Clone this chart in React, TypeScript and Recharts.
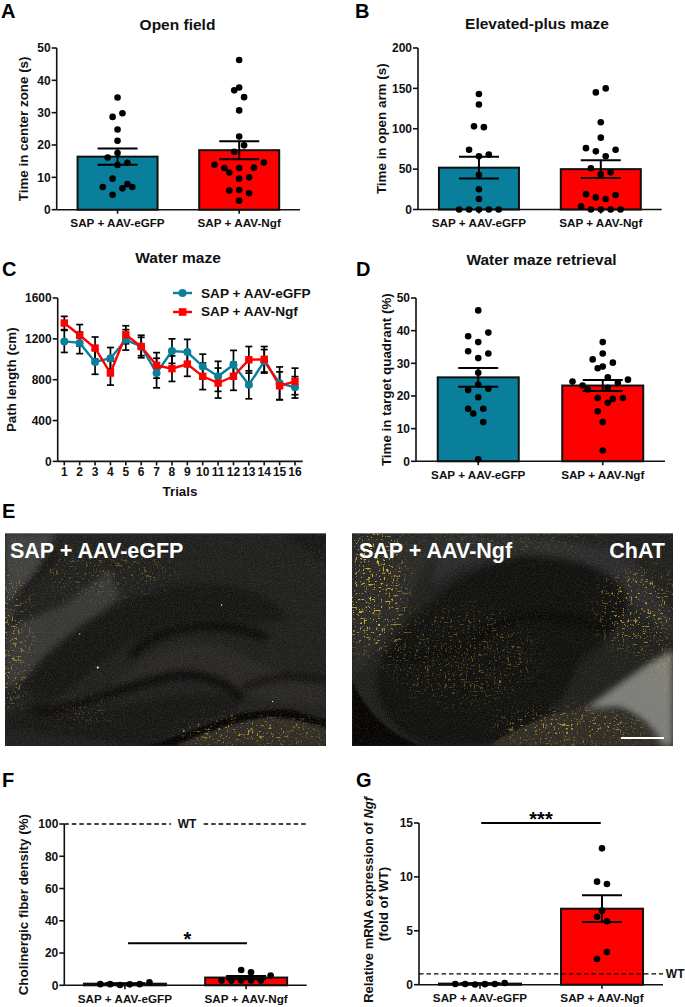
import React from 'react';
import { ComposedChart, LineChart, Line, Bar, Scatter, XAxis, YAxis, ErrorBar, ReferenceLine, ReferenceDot, Legend } from 'recharts';

const GFP = 'SAP + AAV-eGFP';
const NGF = 'SAP + AAV-Ngf';
const groupNames = [GFP, NGF];
const TEAL = '#0a7f9b';
const RED = '#ff0000';
const INK = '#111111';
const FONT = '"Liberation Sans", Arial, sans-serif';

// Panel A
const aMeans = [16.4, 18.4];
const aErrs = [2.5, 2.8];
const aGfpVals = [34.7, 29.8, 28.7, 24.8, 21.3, 17.5, 16.1, 13.8, 14.5, 9.6, 7.0, 6.6, 7.9, 7.0, 4.6];
const aGfpJit = [0, 1, -1, 0, 0, 0, -2, 0, 2, -1, -3, 1, 2, 3, -1];
const aNgfVals = [46.3, 37.8, 36.9, 34.8, 30.7, 22.6, 19.9, 17.9, 13.9, 14.6, 12.9, 12.9, 13.0, 11.5, 9.6, 10.0, 5.9, 6.1, 5.1, 2.8];
const aNgfJit = [0, 0, -1, 1, 0, 0, 1, -1, -5, 5, -3, 0, 3, -2, 0, 2, -2, 0, 2, 0];
// Panel B
const bMeans = [51.8, 50];
const bErrs = [13.4, 11];
const bGfpVals = [143, 130, 103, 102, 74, 66, 68, 43, 25, 13, 0, 0, 0, 0, 0];
const bGfpJit = [0, 0, -1, 1, -2, 0, 2, 0, 0, 0, -4, -2, 0, 2, 4];
const bNgfVals = [150, 145, 108, 89, 76, 74, 72, 66, 51, 46, 43.5, 19, 18, 15, 13, 4, 0, 0, 0, 0];
const bNgfJit = [1, -1, 0, 0, -3, 3, -1, 1, -2, 2, 0, -3, 3, -1, 1, -4, -2, 0, 2, 4];
// Panel C
const trials = [1, 2, 3, 4, 5, 6, 7, 8, 9, 10, 11, 12, 13, 14, 15, 16];
const cGfp = [1175, 1160, 973, 1010, 1190, 1125, 865, 1080, 1070, 930, 833, 947, 750, 980, 765, 725];
const cGfpErr = [108, 105, 120, 105, 100, 90, 145, 120, 125, 120, 147, 140, 137, 115, 160, 105];
const cNgf = [1355, 1235, 1110, 865, 1240, 1125, 940, 908, 953, 833, 767, 833, 995, 1000, 740, 783];
const cNgfErr = [65, 105, 108, 118, 88, 110, 125, 125, 120, 130, 147, 137, 130, 125, 137, 130];
// Panel D
const dMeans = [25.7, 23.2];
const dErrs = [2.9, 1.7];
const dGfpVals = [46.2, 39.4, 38.3, 36.5, 33.7, 33, 31.6, 27.1, 23.5, 21.8, 22.2, 19.6, 16.1, 16.1, 14.6, 12, 0.6];
const dGfpJit = [0, 2, -2, 0, -2, 2, 0, 0, 0, -2, 2, 0, -2, 1, -1, 1, 0];
const dNgfVals = [36.5, 33, 31.2, 29, 28.5, 30.2, 25.7, 25, 24.4, 24, 23.2, 22.5, 22, 19.4, 19.1, 19.4, 17.9, 15.3, 12, 3.3];
const dNgfJit = [0, 0, -2, 0, -1, 2, 1, 5, -6, 3, -4, 1, -3, -1, 2, 4, 1, -1, 0, 0];
// Panel F
const fMeans = [1, 4.8];
const fErrs = [0.3, 1];
const fGfpVals = [0.7, 0.7, 0.2, 0.6, 0.7, 1.9];
const fGfpJit = [-5, -3, -1, 1, 3, 5];
const fNgfVals = [9.5, 8.1, 6, 2.9, 2.9, 3, 3, 2.9];
const fNgfJit = [-1, 1, 5, -5, -3, -1, 1, 3];
// Panel G
const gMeans = [0.1, 7.05];
const gErrs = [0.03, 1.24];
const gGfpVals = [0.06, 0.06, 0.02, 0.05, 0.06, 0.15];
const gGfpJit = [-5, -3, -1, 1, 3, 5];
const gNgfVals = [12.65, 9.56, 9.34, 6.87, 6.3, 5.88, 3.03, 2.38];
const gNgfJit = [0, -1, 1, 0, -1, 1, 1, -1];

const pts = (center: number, vals: number[], jit: number[], step: number) =>
  vals.map((y, i) => ({ x: center + jit[i] * step, y }));
const rows = (means: number[], errs: number[]) =>
  means.map((mean, i) => ({ x: i + 0.5, mean, err: errs[i], name: groupNames[i] }));

const Dot = (p: any) => <circle cx={p.cx} cy={p.cy} r={3.3} fill="#000" />;
const axisStyle = { stroke: INK, strokeWidth: 1.6 };
const tickStyle = { fill: INK, fontSize: 11.7, fontWeight: 700, fontFamily: FONT };
const yTickStyle = { fill: INK, fontSize: 12, fontWeight: 700, fontFamily: FONT };

function YTitle({ x, y, lines, size = 13.4 }: { x: number; y: number; lines: React.ReactNode; size?: number }) {
  return (
    <text transform={`rotate(-90 ${x} ${y})`} x={x} y={y} textAnchor="middle" dominantBaseline="central"
      fontFamily={FONT} fontWeight={700} fontSize={size} fill={INK}>{lines}</text>
  );
}

type BarPanelProps = {
  plot: [number, number, number, number]; // x0, x1, yTop, yBottom (page)
  ticks: number[];
  rowsData: any[];
  gfp: { x: number; y: number }[];
  ngf: { x: number; y: number }[];
  yTitle: React.ReactNode;
  yTitleX: number;
  yTitleShift?: number;
  yTitleSize?: number;
  barSize: number;
  capWidth: number;
  extra?: React.ReactNode;
  behind?: React.ReactNode;
  left: number;
  right: number;
};

function BarPanel({ plot, ticks, rowsData, gfp, ngf, yTitle, yTitleX, yTitleShift = 0, yTitleSize, barSize, capWidth, extra, behind, left, right }: BarPanelProps) {
  const [x0, x1, yT, yB] = plot;
  const top = yT - 30;
  const xh = 28;
  const bottom = yB + xh;
  const max = ticks[ticks.length - 1];
  return (
    <div style={{ position: 'absolute', left, top }}>
      <ComposedChart width={right - left} height={bottom - top} data={rowsData}
        margin={{ top: 30, right: right - x1, bottom: 0, left: 0 }}>
        <XAxis type="number" dataKey="x" domain={[0, 2]} ticks={[0.5, 1.5]} interval={0} allowDataOverflow
          tickFormatter={(v: number) => groupNames[v < 1 ? 0 : 1]} tick={tickStyle} height={xh}
          axisLine={axisStyle} tickLine={axisStyle} tickSize={4} tickMargin={5} />
        <YAxis type="number" domain={[0, max]} ticks={ticks} interval={0} tick={yTickStyle} width={x0 - left}
          axisLine={axisStyle} tickLine={axisStyle} tickSize={5} tickMargin={1}
          label={() => <YTitle x={yTitleX - left} y={(yT + yB) / 2 - top + yTitleShift} lines={yTitle} size={yTitleSize} />} />
        {behind}
        <Bar dataKey="mean" isAnimationActive={false}
          shape={(p: any) => (
            <rect x={p.x + p.width / 2 - barSize / 2} y={p.y} width={barSize} height={p.height}
              fill={p.index === 0 ? TEAL : RED} stroke="#111" strokeWidth={2} />
          )}>
          <ErrorBar dataKey="err" width={capWidth} strokeWidth={2} stroke="#000" direction="y" isAnimationActive={false} />
        </Bar>
        <Scatter data={gfp} dataKey="y" shape={Dot} isAnimationActive={false} />
        <Scatter data={ngf} dataKey="y" shape={Dot} isAnimationActive={false} />
        {extra}
      </ComposedChart>
    </div>
  );
}

function Caption({ text, cx, cy, size = 15.5 }: { text: string; cx: number; cy: number; size?: number }) {
  return (
    <div style={{ position: 'absolute', left: cx - 150, width: 300, top: cy - 10, height: 20, lineHeight: '20px', textAlign: 'center',
      fontFamily: FONT, fontWeight: 700, fontSize: size, color: INK }}>{text}</div>
  );
}
function Letter({ t, x, y }: { t: string; x: number; y: number }) {
  return (
    <div style={{ position: 'absolute', left: x, top: y, lineHeight: '23px', height: 23,
      fontFamily: FONT, fontWeight: 700, fontSize: 20, color: '#000' }}>{t}</div>
  );
}

const wtText = { fill: INK, fontSize: 12, fontWeight: 700, fontFamily: FONT };

type Shape = { d: string; fill?: string; stroke?: string; w?: number };
type Ell = [number, number, number, number, number];
type Spot = [number, number, number, string];

const leftShapes: Shape[] = [
  { d: 'M16,10 L170,10 L110,120 L16,290 Z', fill: '#3f3f3d' },
  { d: 'M16,300 L200,220 L330,120 L360,200 L150,400 L16,480 Z', fill: '#363635' },
  { d: 'M330,470 C450,350 600,300 740,380 C820,430 900,440 978,440 L978,530 C880,520 760,520 700,470 C600,420 450,430 330,470 Z', fill: '#272623' },
  { d: 'M850,10 L978,10 L978,110 C930,70 890,40 850,10 Z', fill: '#151513' },
  { d: 'M60,470 C150,340 330,200 520,170 C650,150 800,170 860,260 C800,300 700,260 560,270 C400,300 300,400 180,500 Z', fill: '#141412' },
  { d: 'M100,560 C300,560 500,470 700,500 L720,545 C600,570 500,620 440,647 L60,600 Z', fill: '#151513' },
  { d: 'M60,470 C120,520 50,540 20,560 L20,600 L100,600 L180,500 Z', fill: '#171715' },
  { d: 'M30,230 L80,170 L170,80', stroke: '#0d0c0a', w: 12 },
  { d: 'M400,370 C480,290 640,260 790,320', stroke: '#090907', w: 28 },
  { d: 'M110,545 C250,540 400,450 540,435 C620,430 680,460 720,500', stroke: '#0a0908', w: 26 },
  { d: 'M740,470 C820,430 900,440 978,450', stroke: '#100f0d', w: 20 },
];
const leftTissue = 'M530,647 C620,605 730,565 820,562 C880,565 930,580 978,595 L978,647 Z';
const leftCrack = 'M440,647 C520,625 640,570 740,545 C800,545 850,525 900,545 C930,560 960,565 978,565 L978,592 C930,575 880,565 820,560 C740,560 620,600 520,647 Z';
const leftSpecks: Ell[] = [[30, 330, 55, 210, 0.8], [760, 610, 220, 36, 1], [320, 130, 210, 75, 0.4], [250, 540, 120, 35, 0.35], [965, 85, 25, 60, 0.3]];
const leftSpots: Spot[] = [[294, 412, 3, '#fff'], [665, 225, 2.2, '#eee'], [552, 602, 2.2, '#fff'], [240, 312, 2, '#ddd'], [818, 514, 2, '#ddd']];

const rightShapes: Shape[] = [
  { d: 'M280,10 C480,5 720,20 860,90 L983,250 L983,330 C900,250 760,120 560,70 C430,80 330,110 260,170 Z', fill: '#2a2a2a' },
  { d: 'M22,10 L300,10 L150,280 L22,450 Z', fill: '#282827' },
  { d: 'M120,370 C200,250 350,100 560,80 C700,80 800,130 830,170 C880,260 780,330 700,400 C650,520 620,560 470,640 L250,647 C120,600 60,480 120,370 Z', fill: '#0f0f0e' },
  { d: 'M400,330 C470,260 560,230 780,290', stroke: '#080807', w: 34 },
  { d: 'M130,380 C220,390 320,370 400,330', stroke: '#0a0a09', w: 28 },
];
const rightTissue = 'M430,647 C520,590 640,530 760,530 C850,540 920,590 960,647 Z';
const rightWedge = 'M983,360 L983,647 L950,647 C930,590 880,550 820,530 L720,535 C800,480 900,400 983,360 Z';
const rightBlack = 'M22,450 C60,540 130,610 230,647 L22,647 Z';
const rightSpecks: Ell[] = [[80, 170, 100, 200, 1], [880, 240, 120, 125, 0.8], [680, 590, 230, 40, 1], [350, 380, 220, 150, 0.38], [955, 430, 30, 70, 0.7], [500, 30, 300, 28, 0.4]];
const rightSpots: Spot[] = [[465, 455, 2.5, '#e88a30']];

function Micrograph({ id, left, width, vb, shapes, tissue, crack, wedge, specks, spots, seed }: {
  id: string; left: number; width: number; vb: [number, number, number, number]; shapes: Shape[]; tissue: string; crack: string; wedge?: string; specks: Ell[]; spots: Spot[]; seed: number;
}) {
  const [vx, vy, vw, vh] = vb;
  const full = { x: vx, y: vy, width: vw, height: vh };
  const cs = { colorInterpolationFilters: 'sRGB' } as any;
  const speck = (k: number, b: number) => `0 0 0 0 0.82  0 0 0 0 0.66  0 0 0 0 0.18  0 0 0 ${k} ${b}`;
  return (
    <svg width={width} height={213} viewBox={vb.join(' ')} preserveAspectRatio="none"
      style={{ position: 'absolute', left, top: 533, display: 'block' }}>
      <defs>
        <filter id={`${id}b`} x="-10%" y="-10%" width="120%" height="120%" style={cs}><feGaussianBlur stdDeviation="9" /></filter>
        <filter id={`${id}c`} x="-10%" y="-10%" width="120%" height="120%" style={cs}><feGaussianBlur stdDeviation="2.5" /></filter>
        <filter id={`${id}m`} x="-30%" y="-30%" width="160%" height="160%" style={cs}><feGaussianBlur stdDeviation="30" /></filter>
        <filter id={`${id}n`} x="0" y="0" width="100%" height="100%" style={cs}>
          <feTurbulence type="fractalNoise" baseFrequency="0.3" numOctaves="2" seed={seed} />
          <feColorMatrix values="0 0 0 0 0.72  0 0 0 0 0.72  0 0 0 0 0.7  0 0 0 3 -1.2" />
        </filter>
        <filter id={`${id}s`} x="0" y="0" width="100%" height="100%" style={cs}>
          <feTurbulence type="fractalNoise" baseFrequency="0.13 0.17" numOctaves="2" seed={seed + 4} />
          <feColorMatrix values={speck(14, -9.3)} />
        </filter>
        <filter id={`${id}f`} x="0" y="0" width="100%" height="100%" style={cs}>
          <feTurbulence type="fractalNoise" baseFrequency="0.035 0.16" numOctaves="2" seed={seed + 9} />
          <feColorMatrix values={speck(14, -10)} />
        </filter>
        <filter id={`${id}g`} x="0" y="0" width="100%" height="100%" style={cs}>
          <feTurbulence type="fractalNoise" baseFrequency="0.16 0.035" numOctaves="2" seed={seed + 13} />
          <feColorMatrix values={speck(14, -10)} />
        </filter>
        <mask id={`${id}k`}>
          <g filter={`url(#${id}m)`}>
            {specks.map(([cx, cy, rx, ry, o], i) => <ellipse key={i} cx={cx} cy={cy} rx={rx} ry={ry} fill="#fff" opacity={o} />)}
          </g>
        </mask>
      </defs>
      <rect {...full} fill="#1e1e1d" />
      <g filter={`url(#${id}b)`}>
        {shapes.map((s, i) => <path key={i} d={s.d} fill={s.fill ?? 'none'} stroke={s.stroke ?? 'none'} strokeWidth={s.w ?? 0} strokeLinecap="round" />)}
      </g>
      <path d={tissue} fill="#2e2b25" filter={`url(#${id}c)`} />
      {wedge && <path d={wedge} fill="#7d7d79" filter={`url(#${id}b)`} />}
      <path d={crack} fill="#050302" filter={`url(#${id}c)`} />
      <rect {...full} filter={`url(#${id}n)`} opacity={0.12} />
      <g mask={`url(#${id}k)`}>
        <rect {...full} filter={`url(#${id}s)`} />
        <rect {...full} filter={`url(#${id}f)`} />
        <rect {...full} filter={`url(#${id}g)`} />
      </g>
      {spots.map(([cx, cy, r, c], i) => <circle key={i} cx={cx} cy={cy} r={r} fill={c} />)}
      <line x1={vx} x2={vx + vw} y1={vy + 1} y2={vy + 1} stroke="#bdbdbd" strokeWidth={2.5} opacity={0.7} />
    </svg>
  );
}
function ImgText({ t, x, right }: { t: string; x: number; right?: boolean }) {
  return (
    <div style={{ position: 'absolute', top: 538, height: 26, lineHeight: '26px', whiteSpace: 'nowrap',
      ...(right ? { right: 685 - x } : { left: x }), fontFamily: FONT, fontWeight: 700, fontSize: 21.5, color: '#fff' }}>{t}</div>
  );
}

const cRows = trials.map((trial, i) => ({ trial, gfp: cGfp[i], gfpErr: cGfpErr[i], ngf: cNgf[i], ngfErr: cNgfErr[i] }));

const LegendBox = ({ payload }: any) => (
  <div style={{ fontFamily: FONT, fontWeight: 700, fontSize: 13.6, color: INK }}>
    {(payload || []).filter((e: any) => e.type !== 'none').sort((a: any, b: any) => (a.value === GFP ? -1 : b.value === GFP ? 1 : 0)).map((e: any) => (
      <div key={e.value} style={{ height: 18.5, display: 'flex', alignItems: 'center', whiteSpace: 'nowrap' }}>
        <svg width={19} height={12} style={{ marginRight: 9 }}>
          <line x1={0} x2={19} y1={6} y2={6} stroke={e.color} strokeWidth={2.4} />
          {e.value === GFP ? <circle cx={9.5} cy={6} r={4} fill={e.color} /> : <rect x={5.8} y={2.2} width={7.6} height={7.6} fill={e.color} />}
        </svg>
        {e.value}
      </div>
    ))}
  </div>
);

function PanelC() {
  const left = 0, right = 340, yT = 298.3, yB = 461.7, x0 = 57.7, x1 = 302.7;
  const top = yT - 30, bottom = 500;
  return (
    <div style={{ position: 'absolute', left, top }}>
      <LineChart width={right - left} height={bottom - top} data={cRows}
        margin={{ top: 30, right: right - x1, bottom: 0, left: 0 }}>
        <XAxis dataKey="trial" interval={0} padding={{ left: 6.6, right: 7.7 }} height={bottom - yB}
          tick={{ ...yTickStyle, fontSize: 12 }} axisLine={axisStyle} tickLine={axisStyle} tickSize={4} tickMargin={2}
          label={() => <text x={180} y={492 - top} textAnchor="middle" dominantBaseline="central" fontFamily={FONT} fontWeight={700} fontSize={13.4} fill={INK}>Trials</text>} />
        <YAxis domain={[0, 1600]} ticks={[0, 400, 800, 1200, 1600]} interval={0} tick={yTickStyle} width={x0 - left}
          axisLine={axisStyle} tickLine={axisStyle} tickSize={5} tickMargin={1}
          label={() => <YTitle x={11.7} y={(yT + yB) / 2 - top} lines="Path length (cm)" />} />
        <Legend content={<LegendBox />} layout="horizontal" verticalAlign="middle" align="center"
          wrapperStyle={{ position: 'absolute', left: 173, top: 284 - top, width: 165, bottom: 'auto' }} />
        <Line dataKey="gfp" name="gfp-err" stroke="none" dot={false} legendType="none" isAnimationActive={false}>
          <ErrorBar dataKey="gfpErr" width={3.5} strokeWidth={1.7} stroke="#000" direction="y" isAnimationActive={false} />
        </Line>
        <Line dataKey="ngf" name="ngf-err" stroke="none" dot={false} legendType="none" isAnimationActive={false}>
          <ErrorBar dataKey="ngfErr" width={3.5} strokeWidth={1.7} stroke="#000" direction="y" isAnimationActive={false} />
        </Line>
        <Line dataKey="gfp" name={GFP} stroke={TEAL} strokeWidth={2.4} isAnimationActive={false}
          dot={(p: any) => <circle key={p.index} cx={p.cx} cy={p.cy} r={4} fill={TEAL} />} />
        <Line dataKey="ngf" name={NGF} stroke={RED} strokeWidth={2.4} isAnimationActive={false}
          dot={(p: any) => <rect key={p.index} x={p.cx - 3.7} y={p.cy - 3.7} width={7.4} height={7.4} fill={RED} />} />
      </LineChart>
    </div>
  );
}

const STEP = 0.0405;
const dash = { stroke: '#000', strokeWidth: 1.4, strokeDasharray: '4.5 3' };
const sig = { stroke: '#000', strokeWidth: 2 };
const starLabel = (v: string) => ({ value: v, position: 'top' as const, offset: -3, fill: '#000', fontSize: 20, fontWeight: 700, fontFamily: FONT });

export default function App() {
  return (
    <div style={{ position: 'absolute', left: 0, top: 0, width: 685, height: 1007, overflow: 'hidden', background: '#fff' }}>
      <Letter t="A" x={1} y={0} />
      <Letter t="B" x={355} y={0} />
      <Letter t="C" x={2} y={258} />
      <Letter t="D" x={356} y={258} />
      <Letter t="E" x={2} y={500} />
      <Letter t="F" x={2} y={769} />
      <Letter t="G" x={356} y={769} />
      <Caption text="Open field" cx={177.5} cy={25} />
      <Caption text="Elevated-plus maze" cx={537} cy={24} />
      <Caption text="Water maze" cx={178} cy={258} />
      <Caption text="Water maze retrieval" cx={541.5} cy={260} />

      <BarPanel left={0} right={340} plot={[56.7, 300, 48.3, 210]} ticks={[0, 10, 20, 30, 40, 50]}
        rowsData={rows(aMeans, aErrs)} gfp={pts(0.5, aGfpVals, aGfpJit, STEP)} ngf={pts(1.5, aNgfVals, aNgfJit, STEP)}
        yTitle="Time in center zone (s)" yTitleX={24} barSize={80} capWidth={20} />
      <BarPanel left={340} right={685} plot={[418, 661.7, 48, 209.5]} ticks={[0, 50, 100, 150, 200]}
        rowsData={rows(bMeans, bErrs)} gfp={pts(0.5, bGfpVals, bGfpJit, STEP)} ngf={pts(1.5, bNgfVals, bNgfJit, STEP)}
        yTitle="Time in open arm (s)" yTitleX={381.7} barSize={80} capWidth={20} />
      <PanelC />
      <BarPanel left={340} right={685} plot={[416, 665, 297.7, 461]} ticks={[0, 10, 20, 30, 40, 50]}
        rowsData={rows(dMeans, dErrs)} gfp={pts(0.5, dGfpVals, dGfpJit, STEP)} ngf={pts(1.5, dNgfVals, dNgfJit, STEP)}
        yTitle="Time in target quadrant (%)" yTitleX={387} barSize={81} capWidth={20} />

      <Micrograph id="l" left={5} width={321} vb={[16, 10, 962, 637]} shapes={leftShapes} tissue={leftTissue} crack={leftCrack} specks={leftSpecks} spots={leftSpots} seed={7} />
      <Micrograph id="r" left={352} width={321} vb={[22, 10, 961, 637]} shapes={rightShapes} tissue={rightTissue} crack={rightBlack} wedge={rightWedge} specks={rightSpecks} spots={rightSpots} seed={19} />
      <ImgText t={GFP} x={10} />
      <ImgText t={NGF} x={359} />
      <ImgText t="ChAT" x={665} right />
      <div style={{ position: 'absolute', left: 621, top: 737, width: 43, height: 2, background: '#fff' }} />

      <BarPanel left={0} right={340} plot={[64.3, 306.7, 824, 985.3]} ticks={[0, 20, 40, 60, 80, 100]}
        rowsData={rows(fMeans, fErrs)} gfp={pts(0.5, fGfpVals, fGfpJit, STEP)} ngf={pts(1.5, fNgfVals, fNgfJit, STEP)}
        yTitle="Cholinergic fiber density (%)" yTitleX={24} barSize={82} capWidth={20}
        behind={<>
          <ReferenceLine segment={[{ x: 0, y: 100 }, { x: 0.88, y: 100 }]} {...dash} />
          <ReferenceLine segment={[{ x: 1.15, y: 100 }, { x: 2, y: 100 }]} {...dash} />
          <ReferenceDot x={1.012} y={100} r={0} ifOverflow="visible" label={{ value: 'WT', position: 'center', ...wtText }} />
        </>}
        extra={<ReferenceLine segment={[{ x: 0.526, y: 26 }, { x: 1.507, y: 26 }]} {...sig} label={starLabel('*')} />} />
      <BarPanel left={340} right={685} plot={[419, 663, 823.3, 985]} ticks={[0, 5, 10, 15]}
        rowsData={rows(gMeans, gErrs)} gfp={pts(0.5, gGfpVals, gGfpJit, STEP)} ngf={pts(1.5, gNgfVals, gNgfJit, STEP)}
        yTitle={<tspan>Relative mRNA expression of <tspan fontStyle="italic">Ngf</tspan></tspan>} yTitleX={368} yTitleShift={-4} yTitleSize={13}
        barSize={82} capWidth={20}
        behind={<>
          <ReferenceLine segment={[{ x: 0, y: 1 }, { x: 2, y: 1 }]} {...dash} />
          <ReferenceDot x={2.1} y={1} r={0} ifOverflow="visible" label={{ value: 'WT', position: 'center', ...wtText }} />
        </>}
        extra={<ReferenceLine segment={[{ x: 0.51, y: 15 }, { x: 1.49, y: 15 }]} {...sig} label={starLabel('***')} />} />
      <div style={{ position: 'absolute', left: 384, top: 904, width: 0, height: 0 }}>
        <div style={{ position: 'absolute', left: -50, top: -8, width: 100, height: 16, lineHeight: '16px', textAlign: 'center', transform: 'rotate(-90deg)',
          fontFamily: FONT, fontWeight: 700, fontSize: 13.4, color: INK, whiteSpace: 'nowrap' }}>(fold of WT)</div>
      </div>
    </div>
  );
}
